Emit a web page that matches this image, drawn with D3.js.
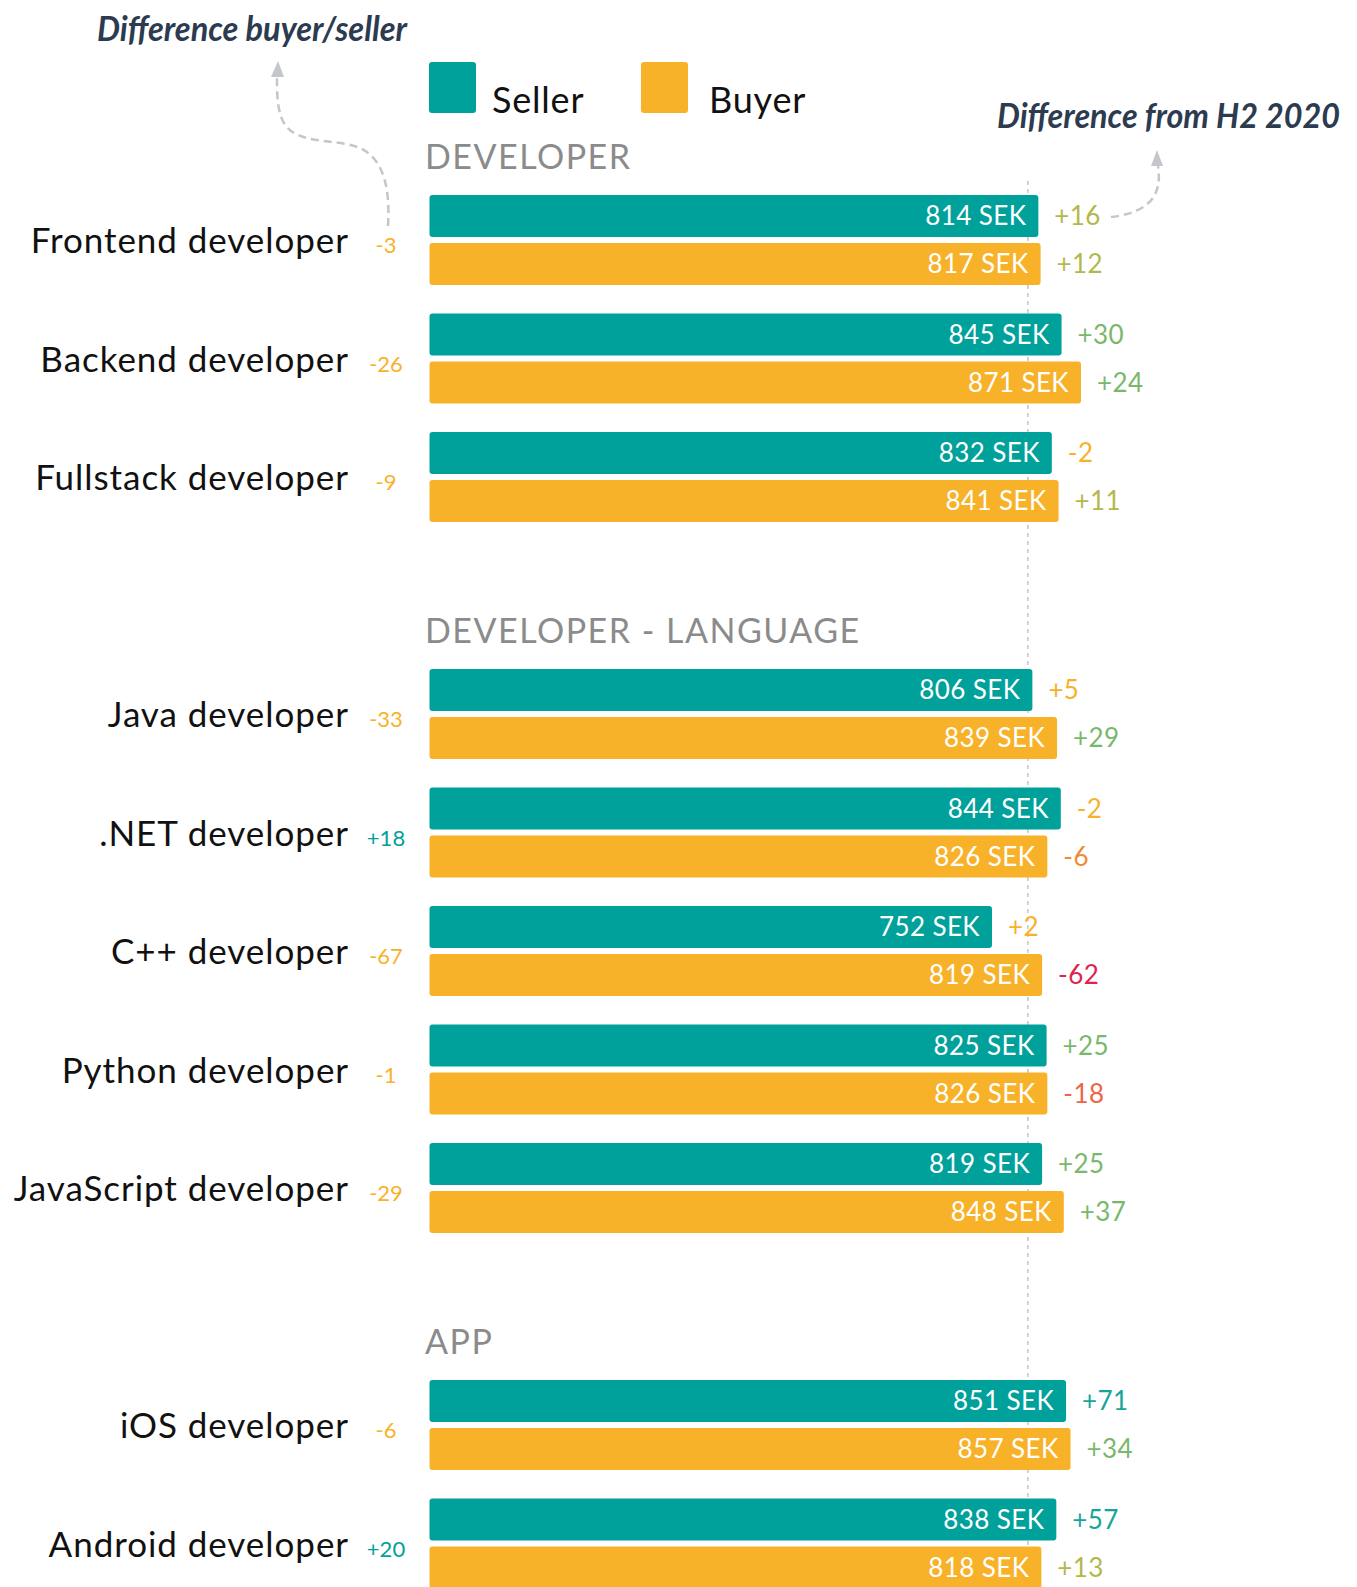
<!DOCTYPE html>
<html>
<head>
<meta charset="utf-8">
<script src="https://cdn.jsdelivr.net/npm/d3@7"></script>
<style>
	body { margin: 0; background: #fff; }
	svg { display: block; font-family: Lato, 'Open Sans', sans-serif; }
</style>
</head>
<body>
<div id="chart"></div>
<script>
'use strict';

// data
var sections		= ['DEVELOPER', 'DEVELOPER - LANGUAGE', 'APP'];
var categories		= ['Frontend developer', 'Backend developer', 'Fullstack developer', 'Java developer', '.NET developer', 'C++ developer', 'Python developer', 'JavaScript developer', 'iOS developer', 'Android developer'];
var categorySection	= [0, 0, 0, 1, 1, 1, 1, 1, 2, 2];
var seller			= [814, 845, 832, 806, 844, 752, 825, 819, 851, 838];
var buyer			= [817, 871, 841, 839, 826, 819, 826, 848, 857, 818];
var sellerChange	= [16, 30, -2, 5, -2, 2, 25, 25, 71, 57];
var buyerChange		= [12, 24, 11, 29, -6, -62, -18, 37, 34, 13];
var seriesNames		= ['Seller', 'Buyer'];
var referenceValue	= 800;

// basic options
var W = 1357;
var H = 1587;
var teal = '#01a19b';
var orange = '#f8b229';

var svg = d3.select('#chart').append('svg')
	.attr('width', W)
	.attr('height', H);

// slots: a blank slot before each new section
var slots = [];
categories.forEach(function(c, i){
	if (i > 0 && categorySection[i] !== categorySection[i - 1]){
		slots.push('gap' + i);
	}
	slots.push(c);
});

var y = d3.scaleBand()
	.domain(slots)
	.range([195, 195 + slots.length * 118.5])
	.paddingInner(0);

var inner = d3.scaleBand()
	.domain(seriesNames)
	.range([0, 90])
	.paddingInner(0.125);

var x = d3.scaleLinear()
	.domain([0, 1000])
	.range([429.5, 429.5 + 748]);

// colour for the change since H2 2020
var changeColor = d3.scaleThreshold()
	.domain([-40, -10, -4, 10, 20, 50])
	.range(['#e0234f', '#ec6648', '#f08a34', '#f7b12a', '#b3b84b', '#79b86b', '#15a59a']);

// reference line
svg.append('line')
	.attr('x1', x(referenceValue))
	.attr('x2', x(referenceValue))
	.attr('y1', 181)
	.attr('y2', H)
	.attr('stroke', '#a8a8a8')
	.attr('stroke-width', 1)
	.attr('stroke-dasharray', '4,4');

// legend
var legend = svg.append('g');
seriesNames.forEach(function(s, i){
	var lx = 429 + i * 212;
	legend.append('rect')
		.attr('x', lx)
		.attr('y', 62)
		.attr('width', 47)
		.attr('height', 51)
		.attr('rx', 3)
		.attr('fill', i === 0 ? teal : orange);
	legend.append('text')
		.attr('x', lx + 63 + i * 5)
		.attr('y', 113)
		.attr('font-size', 36)
		.attr('letter-spacing', 0.8)
		.attr('fill', '#111')
		.text(s);
});

// section headers
sections.forEach(function(s, si){
	var first = categorySection.indexOf(si);
	svg.append('text')
		.attr('x', 425)
		.attr('y', y(categories[first]) - 26)
		.attr('font-size', 34)
		.attr('letter-spacing', 1.5)
		.attr('fill', '#8b8b8b')
		.text(s);
});

// rows
var rows = svg.selectAll('g.row')
	.data(categories)
	.enter()
	.append('g')
	.attr('class', 'row')
	.attr('transform', function(d){ return 'translate(0,' + y(d) + ')'; });

// category labels
rows.append('text')
	.attr('x', 349)
	.attr('y', 45 + 13)
	.attr('text-anchor', 'end')
	.attr('font-size', 35)
	.attr('letter-spacing', 0.95)
	.attr('fill', '#111')
	.text(function(d){ return d; });

// difference buyer/seller
rows.append('text')
	.attr('x', 386)
	.attr('y', 45 + 13)
	.attr('text-anchor', 'middle')
	.attr('font-size', 22)
	.attr('fill', function(d, i){ return seller[i] - buyer[i] > 0 ? teal : orange; })
	.text(function(d, i){
		var v = seller[i] - buyer[i];
		return (v > 0 ? '+' : '') + v;
	});

// bars
seriesNames.forEach(function(s, si){
	var values = si === 0 ? seller : buyer;
	var changes = si === 0 ? sellerChange : buyerChange;

	rows.append('rect')
		.attr('x', x(0))
		.attr('y', inner(s))
		.attr('width', function(d, i){ return x(values[i]) - x(0); })
		.attr('height', inner.bandwidth())
		.attr('rx', 3)
		.attr('fill', si === 0 ? teal : orange);

	rows.append('text')
		.attr('x', function(d, i){ return x(values[i]) - 12; })
		.attr('y', inner(s) + inner.bandwidth() / 2 + 9)
		.attr('text-anchor', 'end')
		.attr('font-size', 26)
		.attr('letter-spacing', 0.4)
		.attr('fill', '#fff')
		.text(function(d, i){ return values[i] + ' SEK'; });

	rows.append('text')
		.attr('x', function(d, i){ return x(values[i]) + 16; })
		.attr('y', inner(s) + inner.bandwidth() / 2 + 9)
		.attr('font-size', 26)
		.attr('letter-spacing', 0.4)
		.attr('fill', function(d, i){ return changeColor(changes[i]); })
		.text(function(d, i){ return (changes[i] > 0 ? '+' : '') + changes[i]; });
});

// annotations
var note = svg.append('g')
	.attr('font-style', 'italic')
	.attr('font-weight', 700)
	.attr('fill', '#2c3b4f');

note.append('text')
	.attr('x', 97)
	.attr('y', 41)
	.attr('font-size', 34)
	.attr('textLength', 310)
	.attr('lengthAdjust', 'spacingAndGlyphs')
	.text('Difference buyer/seller');

note.append('text')
	.attr('x', 997)
	.attr('y', 128)
	.attr('font-size', 34)
	.attr('textLength', 343)
	.attr('lengthAdjust', 'spacingAndGlyphs')
	.text('Difference from H2 2020');

var arrows = svg.append('g')
	.attr('fill', 'none')
	.attr('stroke', '#c3c6cb')
	.attr('stroke-width', 2.5)
	.attr('stroke-dasharray', '8,5');

arrows.append('path')
	.attr('d', 'M388,226 C390,190 385,160 360,148 C335,138 300,145 285,125 C277,112 277,95 277,78');

arrows.append('path')
	.attr('d', 'M1111,217 C1130,215 1150,208 1156,192 C1160,182 1159,175 1158,166');

var heads = svg.append('g').attr('fill', '#c3c6cb');
heads.append('path').attr('d', 'M278,61 L284,77 L271,77 Z');
heads.append('path').attr('d', 'M1157,150 L1163,166 L1151,166 Z');
</script>
</body>
</html>
